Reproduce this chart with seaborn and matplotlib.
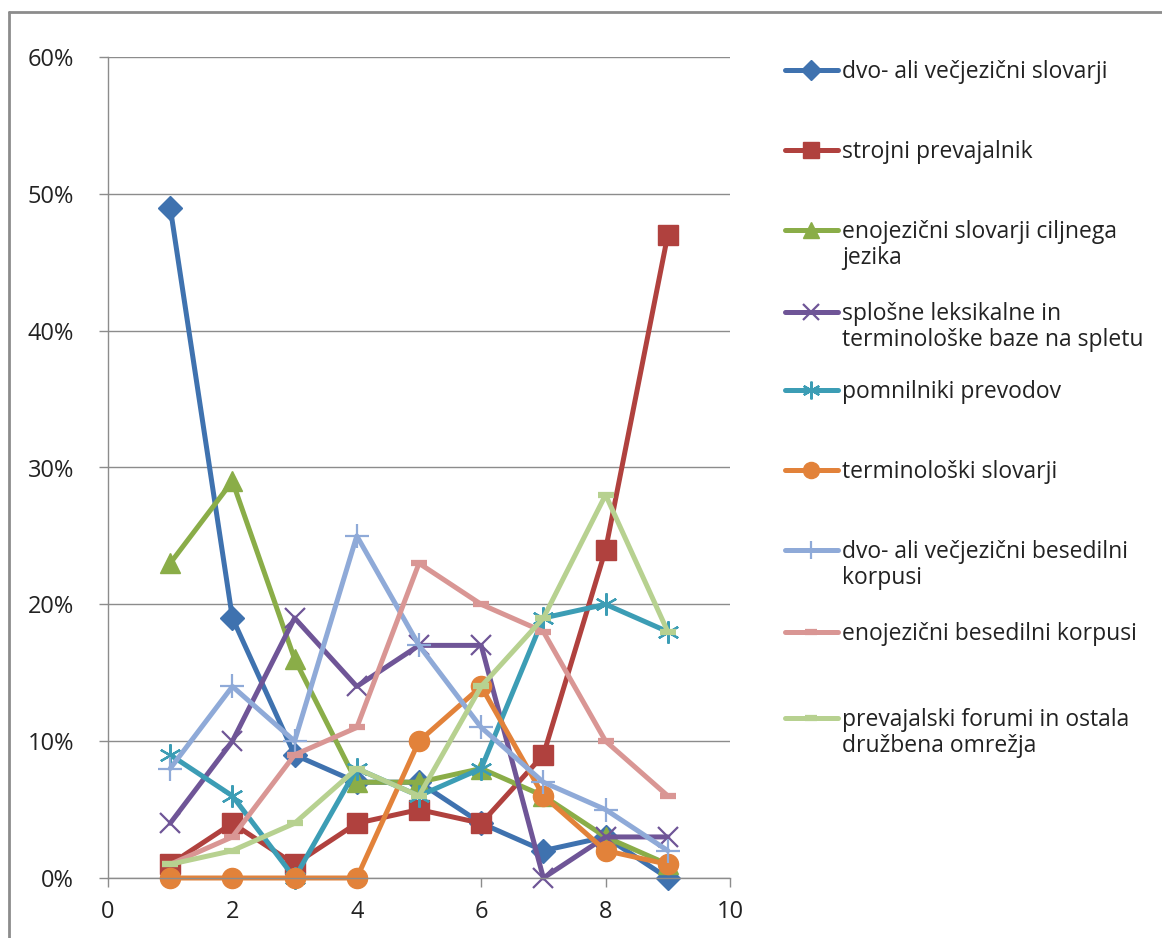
import matplotlib
matplotlib.use("Agg")
import matplotlib.pyplot as plt
import pandas as pd
import seaborn as sns
from matplotlib.lines import Line2D
from matplotlib.ticker import FuncFormatter

# Rank positions (x) and share of respondents per resource (%)
positions = [1, 2, 3, 4, 5, 6, 7, 8, 9]
dvo_slovarji = [49, 19, 9, 7, 7, 4, 2, 3, 0]
strojni_prevajalnik = [1, 4, 1, 4, 5, 4, 9, 24, 47]
enojezicni_slovarji = [23, 29, 16, 7, 7, 8, 6, 3, 1]
leksikalne_baze = [4, 10, 19, 14, 17, 17, 0, 3, 3]
pomnilniki = [9, 6, 0, 8, 6, 8, 19, 20, 18]
terminoloski_slovarji = [0, 0, 0, 0, 10, 14, 6, 2, 1]
dvo_korpusi = [8, 14, 10, 25, 17, 11, 7, 5, 2]
enojezicni_korpusi = [1, 3, 9, 11, 23, 20, 18, 10, 6]
forumi = [1, 2, 4, 8, 6, 14, 19, 28, 18]

series_labels = [
    "dvo- ali večjezični slovarji",
    "strojni prevajalnik",
    "enojezični slovarji ciljnega\njezika",
    "splošne leksikalne in\nterminološke baze na spletu",
    "pomnilniki prevodov",
    "terminološki slovarji",
    "dvo- ali večjezični besedilni\nkorpusi",
    "enojezični besedilni korpusi",
    "prevajalski forumi in ostala\ndružbena omrežja",
]
series_values = [
    dvo_slovarji, strojni_prevajalnik, enojezicni_slovarji, leksikalne_baze,
    pomnilniki, terminoloski_slovarji, dvo_korpusi, enojezicni_korpusi, forumi,
]

x_ticks = [0, 2, 4, 6, 8, 10]
y_ticks = [0, 10, 20, 30, 40, 50, 60]

# Styling per series: colour, marker, marker size, marker edge width, filled
styles = [
    ("#3F72AF", "D", 12.5, 1.0, True),
    ("#B0413E", "s", 14, 1.0, True),
    ("#8AAD48", "^", 15, 1.0, True),
    ("#6F5597", "x", 15, 1.6, False),
    ("#3C9DB5", (6, 2, 0), 16, 1.6, False),
    ("#E2823A", "o", 14.5, 1.0, True),
    ("#8FAAD8", "+", 17, 1.6, False),
    ("#D99694", "_", 11, 4.5, False),
    ("#B7D190", "_", 11, 4.5, False),
]

sns.set_style("white")
plt.rcParams["font.family"] = ["Open Sans", "DejaVu Sans"]

W, H = 1162, 938
fig = plt.figure(figsize=(W / 100, H / 100), dpi=100)
ax = fig.add_axes([108 / W, 1 - 878 / H, (730 - 108) / W, (878 - 57) / H])

df = pd.DataFrame(
    [(lab, x, v) for lab, vals in zip(series_labels, series_values) for x, v in zip(positions, vals)],
    columns=["vir", "mesto", "delez"],
)

handles = []
for lab, (color, marker, ms, mew, filled) in zip(series_labels, styles):
    sub = df[df["vir"] == lab]
    sns.lineplot(
        data=sub, x="mesto", y="delez", ax=ax, color=color, linewidth=3.6,
        marker=marker, markersize=ms, markeredgewidth=mew,
        markeredgecolor=color, markerfacecolor=color if filled else "none",
        estimator=None, sort=False, legend=False,
    )
    line = ax.lines[-1]
    line.set_solid_joinstyle("round")
    line.set_solid_capstyle("round")
    line.set_clip_on(False)
    handles.append(line)

grid_c = "#8C8C8C"
text_c = "#222222"
ax.set_xlim(0, 10)
ax.set_ylim(0, 60)
ax.set_xticks(x_ticks)
ax.set_yticks(y_ticks)
ax.yaxis.set_major_formatter(FuncFormatter(lambda v, _: f"{int(v)}%"))
ax.grid(axis="y", color=grid_c, linewidth=1.0)
ax.set_axisbelow(True)
for side in ("top", "right"):
    ax.spines[side].set_visible(False)
for side in ("left", "bottom"):
    ax.spines[side].set_color(grid_c)
    ax.spines[side].set_linewidth(1.0)
ax.tick_params(axis="both", direction="out", length=6.5, width=1, color=grid_c,
               labelsize=17, labelcolor=text_c)
ax.tick_params(axis="y", pad=18, left=True)
ax.tick_params(axis="x", pad=9, bottom=True)
ax.set_xlabel("")
ax.set_ylabel("")

# Legend: one entry per slot so the spacing follows the chart frame
first_line_y = [74, 154, 234, 316, 394, 474, 554, 636, 722]
fs = 16.5
half_line = 0.62 * fs * 100 / 72
for h, lab, yc in zip(handles, series_labels, first_line_y):
    leg = fig.legend(
        handles=[h], labels=[lab], loc="upper left",
        bbox_to_anchor=(785 / W, 1 - (yc - half_line) / H),
        bbox_transform=fig.transFigure, frameon=False, fontsize=fs,
        borderpad=0, borderaxespad=0, handlelength=2.3, handletextpad=0.2,
        handleheight=1.24, numpoints=1, markerscale=0.8, labelcolor=text_c,
    )
    for t in leg.get_texts():
        t.set_linespacing(1.15)
    for col in leg._legend_handle_box.get_children():
        for item in col.get_children():
            item.align = "top"

# Outer chart frame (top and left edges)
fig.add_artist(Line2D([9 / W, 1], [1 - 12 / H, 1 - 12 / H], transform=fig.transFigure,
                      color="#8C8C8C", linewidth=2))
fig.add_artist(Line2D([9 / W, 9 / W], [1 - 12 / H, 0], transform=fig.transFigure,
                      color="#8C8C8C", linewidth=2))

fig.savefig("out.png", dpi=100)
